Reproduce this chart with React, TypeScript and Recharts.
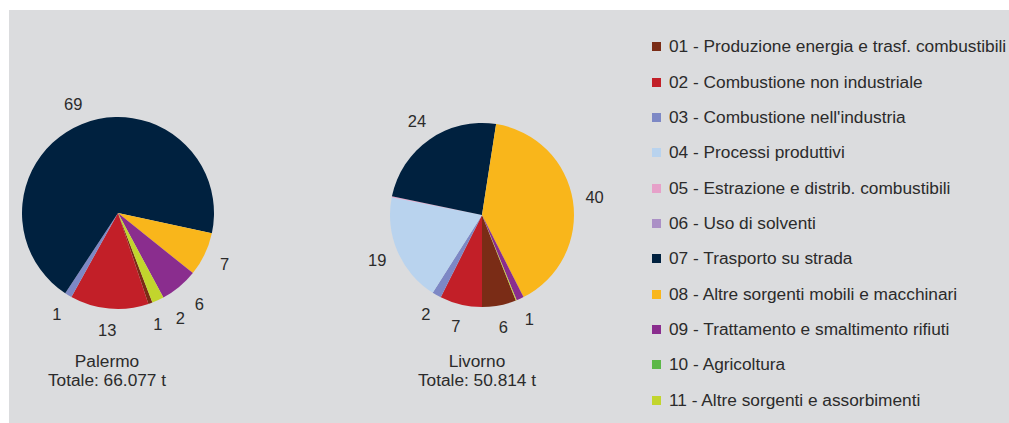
import React from "react";
import { PieChart, Pie, Cell } from "recharts";

const categories = [
  "01 - Produzione energia e trasf. combustibili",
  "02 - Combustione non industriale",
  "03 - Combustione nell'industria",
  "04 - Processi produttivi",
  "05 - Estrazione e distrib. combustibili",
  "06 - Uso di solventi",
  "07 - Trasporto su strada",
  "08 - Altre sorgenti mobili e macchinari",
  "09 - Trattamento e smaltimento rifiuti",
  "10 - Agricoltura",
  "11 - Altre sorgenti e assorbimenti",
];

const colors = [
  "#7a2c16",
  "#c21f28",
  "#7d88c5",
  "#b9d3ee",
  "#e6a1c9",
  "#ab90c6",
  "#00213f",
  "#f9b61b",
  "#8a2d8e",
  "#5cb848",
  "#c2d52d",
];

// percent shares
const palermoValues = [0.7, 13.2, 1.2, 0, 0, 0, 69.1, 7.4, 6.4, 0, 2.0];
const livornoValues = [6.0, 7.4, 1.6, 19.1, 0.15, 0, 24.2, 40.1, 1.3, 0, 0.15];

const cityNames = ["Palermo", "Livorno"];
const cityTotals = ["Totale: 66.077 t", "Totale: 50.814 t"];

const palermoData = categories.map((name, i) => ({ name, value: palermoValues[i] }));
const livornoData = categories.map((name, i) => ({ name, value: livornoValues[i] }));

const FONT = "'Liberation Sans', Arial, Helvetica, sans-serif";
const TEXT = "#2b2b2b";
const RAD = Math.PI / 180;
const PALERMO_START = -69;
const LIVORNO_START = -68.4;
const MIN_GAP = 11;

// label angle offsets (clock degrees) to keep labels of tiny neighbouring slices apart
function labelShifts(values: number[], startAngle: number): number[] {
  const total = values.reduce((a, b) => a + b, 0);
  const clock0 = 90 - startAngle;
  let cum = 0;
  const items: { i: number; a: number }[] = [];
  values.forEach((v, i) => {
    const mid = (((clock0 + ((cum + v / 2) / total) * 360) % 360) + 360) % 360;
    cum += v;
    if (v >= 0.5) items.push({ i, a: mid });
  });
  const sorted = [...items].sort((p, q) => p.a - q.a);
  const adj = sorted.map((s) => s.a);
  for (let k = sorted.length - 2; k >= 0; k--) {
    if (adj[k + 1] - adj[k] < MIN_GAP) adj[k] = adj[k + 1] - MIN_GAP;
  }
  const shifts = values.map(() => 0);
  sorted.forEach((s, k) => {
    shifts[s.i] = adj[k] - s.a;
  });
  return shifts;
}

const palermoShifts = labelShifts(palermoValues, PALERMO_START);
const livornoShifts = labelShifts(livornoValues, LIVORNO_START);

const makeLabel = (shifts: number[], values: number[]) => (props: any) => {
  const { cx, cy, midAngle, outerRadius, value } = props;
  if (value < 0.5) return null;
  let index = props.index;
  if (index === undefined) index = values.indexOf(value);
  const shift = shifts[index] || 0;
  const ang = midAngle - shift; // chart angle = 90 - clock angle
  const r = outerRadius + (shift !== 0 ? 26 : 22);
  const x = cx + r * Math.cos(-ang * RAD);
  const y = cy + r * Math.sin(-ang * RAD);
  return (
    <text
      key={`l-${index}`}
      x={x}
      y={y}
      fill={TEXT}
      fontSize={16.5}
      fontFamily={FONT}
      textAnchor="middle"
      dominantBaseline="central"
    >
      {Math.round(value)}
    </text>
  );
};

export default function App() {
  return (
    <div
      style={{
        position: "fixed",
        left: 0,
        top: 0,
        width: 1009,
        height: 423,
        background: "#ffffff",
        overflow: "hidden",
        fontFamily: FONT,
      }}
    >
      <div
        style={{
          position: "absolute",
          left: 9,
          top: 10,
          width: 1000,
          height: 413,
          background: "#dbdcde",
        }}
      />
      <div style={{ position: "absolute", left: 0, top: 0 }}>
        <PieChart width={1009} height={423} margin={{ top: 0, right: 0, bottom: 0, left: 0 }}>
          <Pie
            data={palermoData}
            dataKey="value"
            nameKey="name"
            cx={118}
            cy={213}
            outerRadius={96}
            startAngle={PALERMO_START}
            endAngle={PALERMO_START - 360}
            stroke="none"
            label={makeLabel(palermoShifts, palermoValues)}
            labelLine={false}
            isAnimationActive={false}
          >
            {palermoData.map((d, i) => (
              <Cell key={i} fill={colors[i]} />
            ))}
          </Pie>
          <Pie
            data={livornoData}
            dataKey="value"
            nameKey="name"
            cx={482}
            cy={215}
            outerRadius={92}
            startAngle={LIVORNO_START}
            endAngle={LIVORNO_START - 360}
            stroke="none"
            label={makeLabel(livornoShifts, livornoValues)}
            labelLine={false}
            isAnimationActive={false}
          >
            {livornoData.map((d, i) => (
              <Cell key={i} fill={colors[i]} />
            ))}
          </Pie>
        </PieChart>
      </div>
      {[107, 477].map((x, k) => (
        <div
          key={k}
          style={{
            position: "absolute",
            left: x - 100,
            top: 352,
            width: 200,
            textAlign: "center",
            fontSize: 17.3,
            lineHeight: "19.3px",
            color: TEXT,
          }}
        >
          <div>{cityNames[k]}</div>
          <div>{cityTotals[k]}</div>
        </div>
      ))}
      {categories.map((c, i) => (
        <div
          key={c}
          style={{
            position: "absolute",
            left: 652,
            top: 46.7 + i * 35.33 - 10,
            height: 20,
            display: "flex",
            alignItems: "center",
            whiteSpace: "nowrap",
          }}
        >
          <div style={{ width: 9, height: 9, background: colors[i] }} />
          <div style={{ marginLeft: 8, fontSize: 17.3, color: TEXT }}>{c}</div>
        </div>
      ))}
    </div>
  );
}
